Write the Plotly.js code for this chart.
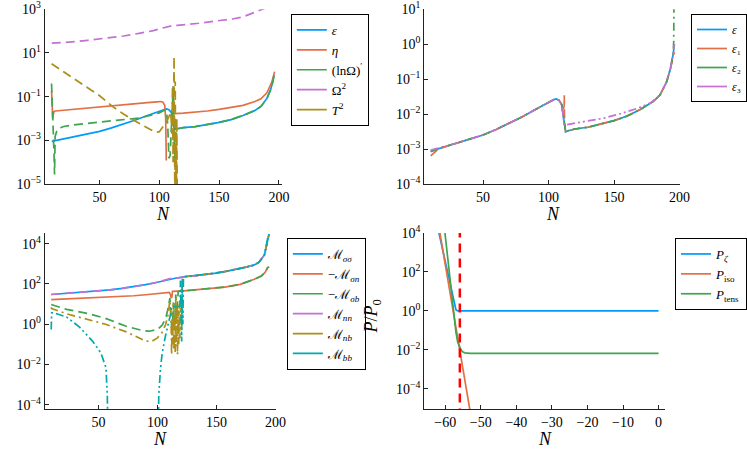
<!DOCTYPE html>
<html><head><meta charset="utf-8">
<script src="https://cdn.plot.ly/plotly-3.0.1.min.js"></script>
<style>html,body{margin:0;padding:0;background:#fff}#plot{width:747px;height:449px}</style>
</head><body><div id="plot"></div>
<script>
// ---------- Panel 1 ----------
const epsN = [10,15,20,30,40,50,60,70,80,90,100,104,106,108,110,111,112,113,115,120,130,140,150,160,170,180,185,190,193,195,196];
const epsV = [8.9e-4,1.02e-3,1.17e-3,1.51e-3,2.0e-3,2.57e-3,3.7e-3,5.5e-3,8.5e-3,1.38e-2,2.24e-2,2.63e-2,2.75e-2,2.51e-2,1.9e-2,1.12e-2,5.0e-3,3.16e-3,3.39e-3,3.8e-3,4.27e-3,5.25e-3,6.6e-3,8.9e-3,1.38e-2,2.34e-2,3.55e-2,8.3e-2,0.2,0.5,1.0];
const etaN = [9.8,10.3,10.8,11.3,12,13,20,30,40,50,60,70,80,90,98,101,103,104.5,105.3,105.8,108,112.5,113,120,130,140,150,160,170,180,185,190,192,194,196.5];
const etaV = [0.18,0.05,0.01,0.016,0.021,0.022,0.024,0.027,0.03,0.034,0.038,0.043,0.048,0.053,0.058,0.06,0.056,0.04,0.01,1.2e-4,null,0.017,0.0168,0.0175,0.019,0.022,0.026,0.032,0.04,0.06,0.08,0.15,0.26,0.45,1.4];
const lnOmN = [9.8,10.2,10.6,11.0,11.4,11.8,12.3,12.8,14,16,20,27,40,50,60,70,83,95,100,104,106,107,108,109,110,111,111.5,112,112.5,113,113.5,114,115,120,130,140,150,160,170,180,185,190,193,195,196];
const lnOmV = [0.4,0.05,0.15,0.01,1e-3,3e-4,2.7e-5,1.5e-3,2.5e-3,3.6e-3,4.3e-3,5.0e-3,6.0e-3,6.8e-3,7.6e-3,8.6e-3,1.05e-2,1.5e-2,1.8e-2,2.4e-2,2.2e-2,5e-3,1.5e-4,2e-4,2e-3,5e-2,0.3,5e-2,1e-3,1.2e-4,1e-3,3.6e-3,3.39e-3,3.8e-3,4.27e-3,5.25e-3,6.6e-3,8.9e-3,1.38e-2,2.34e-2,3.55e-2,8.3e-2,0.2,0.5,1.0];
const om2N = [10,20,30,40,50,60,70,83,95,103,108,110,115,125,133,145,161,170,178,184,189];
const om2V = [28,30,33,38,44,51,60,79,105,140,165,175,185,205,230,280,360,450,650,850,1150];
const T2N = [9.8,20,30,40,50,61,70,80,90,97,100,103,106,108,109.5,110.5,111,111.5,112,112.3,112.6,113,113.3,113.6,114,114.3,114.6,115];
const T2V = [3.2,1.38,0.6,0.26,0.11,0.035,0.016,7.4e-3,3.8e-3,2.3e-3,2.5e-3,4e-3,7e-3,1.2e-2,2e-2,2e-3,0.3,1e-4,5,7,1e-2,1e-6,0.5,1e-5,1e-3,1e-6,1e-2,1e-6];

// ---------- Panel 2 ----------
const eps1N = [10,15,20,30,40,50,60,70,80,90,100,104,106,108,110,111,111.9,112,112.1,112.6,113,115,120,130,140,150,160,170,180,185,190,193,195,196];
const eps1V = [6.5e-4,9.5e-4,1.15e-3,1.5e-3,2.0e-3,2.57e-3,3.7e-3,5.5e-3,8.5e-3,1.38e-2,2.24e-2,2.63e-2,2.75e-2,2.51e-2,1.9e-2,1.3e-2,1.7e-2,3.5e-2,1.0e-2,4.5e-3,3.16e-3,3.39e-3,3.8e-3,4.27e-3,5.25e-3,6.6e-3,8.9e-3,1.38e-2,2.34e-2,3.55e-2,8.3e-2,0.2,0.45,0.6];
const eps2N = [10,15,20,30,40,50,60,70,80,90,100,104,106,108,110,111,112,113,115,120,130,140,150,160,170,180,185,190,193,195,195.5,195.7];
const eps2V = [8.5e-4,1.0e-3,1.17e-3,1.51e-3,2.0e-3,2.57e-3,3.7e-3,5.5e-3,8.5e-3,1.38e-2,2.24e-2,2.63e-2,2.75e-2,2.51e-2,1.9e-2,1.12e-2,5.0e-3,3.16e-3,3.39e-3,3.8e-3,4.27e-3,5.25e-3,6.6e-3,8.9e-3,1.38e-2,2.34e-2,3.55e-2,8.3e-2,0.2,0.5,1.2,15];
const eps3N = [10,15,20,30,40,50,60,70,80,90,100,104,106,108,110,111,111.5,112,125,142.5,155,167.8,178,185,190,193,195,196];
const eps3V = [9.5e-4,1.05e-3,1.18e-3,1.51e-3,2.0e-3,2.57e-3,3.7e-3,5.5e-3,8.5e-3,1.38e-2,2.24e-2,2.63e-2,2.75e-2,2.51e-2,1.9e-2,1.12e-2,8e-3,4.9e-3,6.0e-3,7.8e-3,1.05e-2,1.48e-2,2.14e-2,3.55e-2,8.3e-2,0.2,0.5,1.0];

// ---------- Panel 3 ----------
const MssN = [10,20,30,40,50,60,70,80,90,100,105,110,113,115,123.5,135,150,157,165,175,182,186,190.6,193.3,194.5];
const MssV = [30,33,36,40,45,51,60,72,92,122,145,170,185,192,230,270,345,410,500,680,870,1200,2750,18000,30000];
const MsnN = [10,20,30,40,50,60,70,80,90,100,105,108,110,111,111.6,112.2,112.7,122,140,157,170,182,188,191,193.3,194.5];
const MsnV = [16.6,17.5,18.5,19.8,21,22.5,24,26,29,33,35,37,38,30,20,22,43,45,55,70,95,170,250,360,650,700];
const MsbN = [10,23,42,56,73,87,93,100,104,107,109,110.5,111.5,112.5,113.5,114.5,115.5,116.5,117.5,118.5,122,140,157,170,182,188,191,193.3,194.5];
const MsbV = [9.5,5.5,3.3,1.95,0.81,0.49,0.45,0.55,0.9,2,6,20,2,0.3,12,0.8,30,3,40,44,45,55,70,95,170,250,360,650,700];
const MnnN = [10,20,30,40,50,60,70,80,90,100,105,108,110,112,115,123.5,135,150,157,165,175,182,186,190.6,193.3,194.5];
const MnnV = [30,33,36,40,45,51,60,72,92,122,145,165,182,195,192,230,270,345,410,500,680,870,1200,2750,18000,30000];
const MnbN = [10,10.4,23,42,56,73,90,95,100,104,107,109,110.5,111.5,112,112.5,113,113.5,114,114.5,115,115.5,116,116.5,117,117.5,118,118.5,119,119.5,120.5,121,122,123.5,135,150,157,165,175,182,186,190.6,193.3,194.5];
const MnbV = [7,6,3.3,1.6,1.0,0.43,0.145,0.14,0.21,0.4,1.0,3,15,3,0.03,2,0.1,10,0.05,3,0.04,20,0.08,8,0.03,5,0.1,10,0.2,15,0.5,180,215,230,270,345,410,500,680,870,1200,2750,18000,30000];
const MbbN = [10,10.4,12,23,34,45,52,56.4,57.5,58,80,100.8,101.1,102.5,104,106.7,109.5,111,112,113.3,116,119,119.5,120,120.5,121,121.5,122,123.5,135,150,157,165,175,182,186,190.6,193.3,194.5];
const MbbV = [0.55,3.7,3.7,2.3,0.72,0.145,0.038,0.007,3e-4,1e-5,null,1e-5,3e-4,5.5e-3,0.037,0.25,1.15,3,7.5,7.5,7.5,7.5,150,2,0.14,150,1,200,230,270,345,410,500,680,870,1200,2750,18000,30000];

// ---------- Panel 4 ----------
const PzN = [-62,-61,-60,-59,-58,-57.5,-57,-56.5,-55,-50,-40,-30,-20,-10,0];
const PzV = [1.55e4,2.3e3,334,49,7.1,2.6,1.15,1.0,1.0,1.0,1.0,1.0,1.0,1.0,1.0];
const PisoN = [-62,-60,-58,-56,-54,-53];
const PisoV = [3.5e4,250,1.74,0.0123,8.5e-5,7e-6];
const PtN = [-60.5,-60,-59,-58,-57,-56.5,-56,-55.5,-55,-54.5,-53,-50,-40,-30,-20,-10,0];
const PtV = [4.8e4,7.1e3,162,3.6,0.083,0.025,0.014,9.5e-3,7.9e-3,7.1e-3,6.6e-3,6.6e-3,6.6e-3,6.6e-3,6.6e-3,6.6e-3,6.6e-3];
const vlineN = [-55.9,-55.9];
const vlineV = [1e-7,1e6];

// ---------- tick labels ----------
const xTicks13 = [50,100,150,200];
const xTicks4 = [-60,-50,-40,-30,-20,-10,0];
const yTicks1 = [-5,-3,-1,1,3];
const yTicks2 = [-4,-3,-2,-1,0,1];
const yTicks34 = [-4,-2,0,2,4];

// ---------- styling ----------
const C = {blue:'#009AFA', orange:'#E36F47', green:'#3EA44E', purple:'#C371D2', gold:'#AC8E18', cyan:'#00A9AD', red:'#FF0000'};
const DASH = '9px,5px', DASHDOT = '8px,4px,2px,4px', DASHDOTDOT = '8px,3px,2px,3px,2px,3px';
const W = 1.7;
const FF = 'Liberation Serif, DejaVu Serif, serif';

function axn(k){ return k === 1 ? '' : String(k); }
function tr(x, y, color, dash, k){
  return {type:'scatter', mode:'lines', x, y, xaxis:'x'+axn(k), yaxis:'y'+axn(k),
    line:{color, width:W, dash:dash || 'solid'}, showlegend:false, hoverinfo:'skip'};
}
function lg(name, color, k){
  return {type:'scatter', mode:'lines', x:[null], y:[null], xaxis:'x'+axn(k), yaxis:'y'+axn(k),
    name, line:{color, width:W}, legend:'legend'+axn(k), showlegend:true, hoverinfo:'skip'};
}
const M = '\u2133';
const data = [
  tr(epsN, epsV, C.blue, null, 1),
  tr(etaN, etaV, C.orange, null, 1),
  tr(lnOmN, lnOmV, C.green, DASH, 1),
  tr(om2N, om2V, C.purple, DASH, 1),
  tr(T2N, T2V, C.gold, DASH, 1),
  lg('<i>ε</i>', C.blue, 1),
  lg('<i>η</i>', C.orange, 1),
  lg('(lnΩ)<sup>′</sup>', C.green, 1),
  lg('Ω<sup>2</sup>', C.purple, 1),
  lg('<i>T</i><sup>2</sup>', C.gold, 1),

  tr(epsN, epsV, C.blue, null, 2),
  tr(eps1N, eps1V, C.orange, DASH, 2),
  tr(eps2N, eps2V, C.green, DASHDOT, 2),
  tr(eps3N, eps3V, C.purple, DASHDOTDOT, 2),
  lg('<i>ε</i>', C.blue, 2),
  lg('<i>ε</i>\u2081', C.orange, 2),
  lg('<i>ε</i>\u2082', C.green, 2),
  lg('<i>ε</i>\u2083', C.purple, 2),

  tr(MssN, MssV, C.blue, null, 3),
  tr(MsnN, MsnV, C.orange, null, 3),
  tr(MsbN, MsbV, C.green, DASH, 3),
  tr(MnnN, MnnV, C.purple, DASH, 3),
  tr(MnbN, MnbV, C.gold, DASHDOT, 3),
  tr(MbbN, MbbV, C.cyan, DASHDOTDOT, 3),
  lg(M+'<sub><i>σσ</i></sub>', C.blue, 3),
  lg('−'+M+'<sub><i>σn</i></sub>', C.orange, 3),
  lg('−'+M+'<sub><i>σb</i></sub>', C.green, 3),
  lg(M+'<sub><i>nn</i></sub>', C.purple, 3),
  lg(M+'<sub><i>nb</i></sub>', C.gold, 3),
  lg(M+'<sub><i>bb</i></sub>', C.cyan, 3),

  tr(PzN, PzV, C.blue, null, 4),
  tr(PisoN, PisoV, C.orange, null, 4),
  tr(PtN, PtV, C.green, null, 4),
  Object.assign(tr(vlineN, vlineV, C.red, '9px,6px', 4), {line:{color:C.red, width:2.5, dash:'9px,6px'}}),
  lg('<i>P</i><sub><i>ζ</i></sub>', C.blue, 4),
  lg('<i>P</i><sub>iso</sub>', C.orange, 4),
  lg('<i>P</i><sub>tens</sub>', C.green, 4)
];

function fmtX(v){ return v < 0 ? '\u2212' + Math.abs(v) : String(v); }
function fmtY(p){ return '10<sup>' + (p < 0 ? '\u2212' + Math.abs(p) : p) + '</sup>'; }
const tickFont = {family:FF, size:14, color:'#000'};
function xa(domain, range, ticks, anchor){
  return {domain, range, anchor, tickmode:'array', tickvals:ticks, ticktext:ticks.map(fmtX),
    showline:true, linecolor:'#222', linewidth:1, ticks:'inside', ticklen:4, tickcolor:'#222',
    showgrid:false, zeroline:false, tickfont:tickFont, fixedrange:true, ticklabeloverflow:'allow'};
}
function ya(domain, range, pows, anchor){
  return {domain, range, anchor, type:'log', tickmode:'array', tickvals:pows.map(p => Math.pow(10,p)),
    ticktext:pows.map(fmtY), showline:true, linecolor:'#222', linewidth:1, ticks:'inside', ticklen:4,
    tickcolor:'#222', showgrid:false, zeroline:false, tickfont:tickFont, fixedrange:true, ticklabeloverflow:'allow'};
}
function legBox(x, y, size){
  return {x, y, xanchor:'left', yanchor:'top', bgcolor:'#fff', bordercolor:'#000', borderwidth:1,
    font:{family:FF, size:size || 13, color:'#000'}, traceorder:'normal'};
}
const W0 = 747, H0 = 449;
const px = v => v / W0, py = v => 1 - v / H0;
function ann(text, x, y, angle){
  return {text, x:px(x), y:py(y), xref:'paper', yref:'paper', showarrow:false, xanchor:'center', yanchor:'middle',
    textangle:angle || 0, font:{family:FF, size:18, color:'#000'}};
}
const layout = {
  width:W0, height:H0, margin:{l:0, r:0, t:0, b:0}, paper_bgcolor:'#fff', plot_bgcolor:'#fff',
  xaxis:  xa([px(45), px(283)], [4.17, 202.5], xTicks13, 'y'),
  yaxis:  ya([py(184), py(9.3)], [-5, 3.0001], yTicks1, 'x'),
  xaxis2: xa([px(426), px(683)], [5.14, 200.5], xTicks13, 'y2'),
  yaxis2: ya([py(184.3), py(9.3)], [-4.0001, 1.0001], yTicks2, 'x2'),
  xaxis3: xa([px(45), px(277)], [4.6, 200.3], xTicks13, 'y3'),
  yaxis3: ya([py(409), py(233)], [-4.21, 4.53], yTicks34, 'x3'),
  xaxis4: xa([px(426), px(668)], [-65.9, 1.9], xTicks4, 'y4'),
  yaxis4: ya([py(409), py(233)], [-5.03, 4.0001], yTicks34, 'x4'),
  legend:  legBox(px(292), py(14)),
  legend2: legBox(px(694), py(14), 12),
  legend3: legBox(px(288), py(238)),
  legend4: legBox(px(678), py(238)),
  annotations:[
    ann('<i>N</i>', 164, 214),
    ann('<i>N</i>', 555, 214),
    ann('<i>N</i>', 161, 439),
    ann('<i>N</i>', 547, 439),
    ann('<i>P</i>/<i>P</i><sub>0</sub>', 374, 316, -90)
  ],
  showlegend:true
};
Plotly.newPlot('plot', data, layout, {displayModeBar:false, staticPlot:true});
</script>
</body></html>
